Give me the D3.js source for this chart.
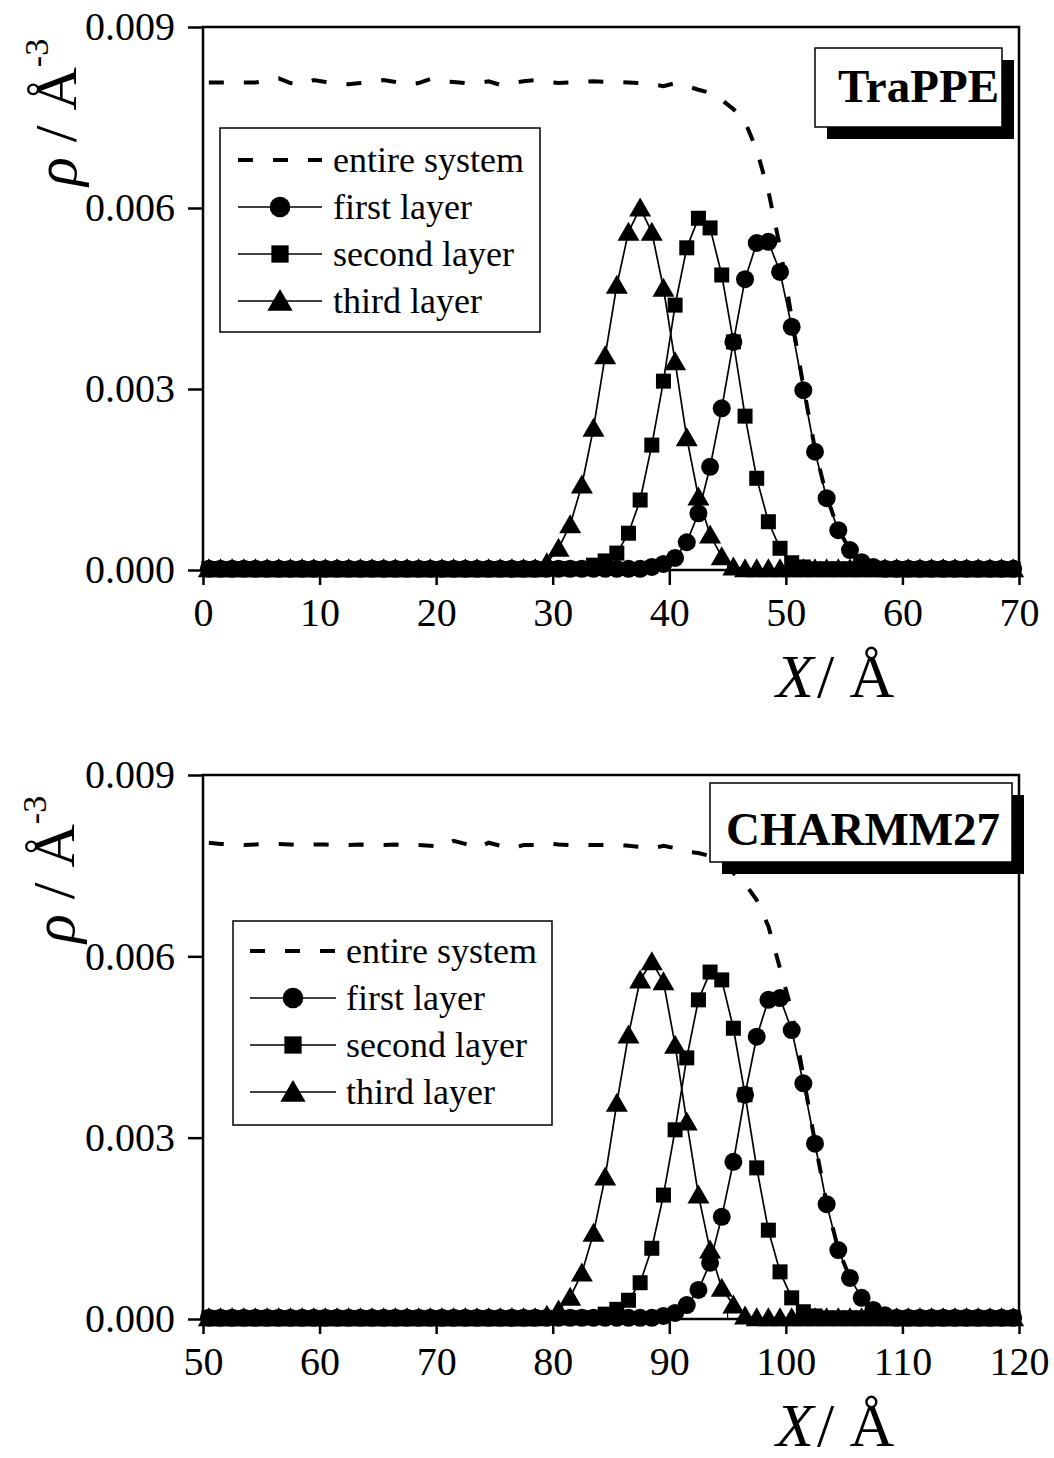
<!DOCTYPE html>
<html>
<head>
<meta charset="utf-8">
<script src="https://cdn.jsdelivr.net/npm/d3@7"></script>
<style>
  body { margin: 0; background: #fff; }
  svg { display: block; font-family: "Liberation Serif", "Times New Roman", serif; }
</style>
</head>
<body>
<div id="chart"></div>
<script>
// bin centres (1 A bins)
const xTop = d3.range(0.5, 70, 1);
const xBottom = d3.range(50.5, 120, 1);

const yTicks = [0, 0.003, 0.006, 0.009];
const xTicksTop = [0, 10, 20, 30, 40, 50, 60, 70];
const xTicksBottom = [50, 60, 70, 80, 90, 100, 110, 120];

const seriesNames = ['entire system', 'first layer', 'second layer', 'third layer'];

// TraPPE panel
const entireTop = [
  0.00808, 0.00808, 0.00808, 0.00808, 0.00808, 0.00811, 0.00815, 0.00807, 0.00805, 0.00812,
  0.00809, 0.00807, 0.00805, 0.00807, 0.00809, 0.00812, 0.00809, 0.00805, 0.00807, 0.00814,
  0.00810, 0.00809, 0.00807, 0.00807, 0.00810, 0.00804, 0.00807, 0.00810, 0.00812, 0.00809,
  0.00807, 0.00808, 0.00809, 0.00810, 0.00809, 0.00809, 0.00808, 0.00807, 0.00805, 0.00802,
  0.00807, 0.00802, 0.00796, 0.00791, 0.00779, 0.00764, 0.00743, 0.00696, 0.00628, 0.00535,
  0.00418, 0.00305, 0.00200, 0.00122, 0.00067, 0.00034, 0.00014, 0.00006, 0.00003, 0.00003,
  0.00003, 0.00003, 0.00003, 0.00003, 0.00003, 0.00003, 0.00003, 0.00003, 0.00003, 0.00003
];
const firstTop = [
  0.00002, 0.00002, 0.00002, 0.00002, 0.00002, 0.00002, 0.00002, 0.00002, 0.00002, 0.00002,
  0.00002, 0.00002, 0.00002, 0.00002, 0.00002, 0.00002, 0.00002, 0.00002, 0.00002, 0.00002,
  0.00002, 0.00002, 0.00002, 0.00002, 0.00002, 0.00002, 0.00002, 0.00002, 0.00002, 0.00002,
  0.00002, 0.00002, 0.00002, 0.00002, 0.00002, 0.00002, 0.00002, 0.00002, 0.00005, 0.00010,
  0.00020, 0.00046, 0.00094, 0.00171, 0.00268, 0.00378, 0.00482, 0.00542, 0.00544, 0.00494,
  0.00403, 0.00298, 0.00196, 0.00119, 0.00066, 0.00033, 0.00013, 0.00005, 0.00002, 0.00002,
  0.00002, 0.00002, 0.00002, 0.00002, 0.00002, 0.00002, 0.00002, 0.00002, 0.00002, 0.00002
];
const secondTop = [
  0.00002, 0.00002, 0.00002, 0.00002, 0.00002, 0.00002, 0.00002, 0.00002, 0.00002, 0.00002,
  0.00002, 0.00002, 0.00002, 0.00002, 0.00002, 0.00002, 0.00002, 0.00002, 0.00002, 0.00002,
  0.00002, 0.00002, 0.00002, 0.00002, 0.00002, 0.00002, 0.00002, 0.00002, 0.00002, 0.00002,
  0.00002, 0.00002, 0.00002, 0.00008, 0.00015, 0.00028, 0.00061, 0.00116, 0.00207, 0.00313,
  0.00439, 0.00534, 0.00583, 0.00567, 0.00489, 0.00378, 0.00255, 0.00152, 0.00080, 0.00036,
  0.00012, 0.00005, 0.00002, 0.00002, 0.00002, 0.00002, 0.00002, 0.00002, 0.00002, 0.00002,
  0.00002, 0.00002, 0.00002, 0.00002, 0.00002, 0.00002, 0.00002, 0.00002, 0.00002, 0.00002
];
const thirdTop = [
  0.00002, 0.00002, 0.00002, 0.00002, 0.00002, 0.00002, 0.00002, 0.00002, 0.00002, 0.00002,
  0.00002, 0.00002, 0.00002, 0.00002, 0.00002, 0.00002, 0.00002, 0.00002, 0.00002, 0.00002,
  0.00002, 0.00002, 0.00002, 0.00002, 0.00002, 0.00002, 0.00002, 0.00002, 0.00002, 0.00012,
  0.00036, 0.00075, 0.00141, 0.00235, 0.00355, 0.00472, 0.00560, 0.00600, 0.00560, 0.00467,
  0.00345, 0.00219, 0.00121, 0.00058, 0.00022, 0.00005, 0.00002, 0.00002, 0.00002, 0.00002,
  0.00002, 0.00002, 0.00002, 0.00002, 0.00002, 0.00002, 0.00002, 0.00002, 0.00002, 0.00002,
  0.00002, 0.00002, 0.00002, 0.00002, 0.00002, 0.00002, 0.00002, 0.00002, 0.00002, 0.00002
];

// CHARMM27 panel
const entireBottom = [
  0.00788, 0.00786, 0.00785, 0.00784, 0.00785, 0.00786, 0.00786, 0.00785, 0.00784, 0.00785,
  0.00785, 0.00784, 0.00784, 0.00785, 0.00784, 0.00784, 0.00785, 0.00784, 0.00784, 0.00783,
  0.00781, 0.00791, 0.00786, 0.00779, 0.00788, 0.00783, 0.00779, 0.00784, 0.00784, 0.00787,
  0.00785, 0.00784, 0.00784, 0.00784, 0.00784, 0.00785, 0.00783, 0.00781, 0.00778, 0.00783,
  0.00779, 0.00773, 0.00771, 0.00766, 0.00754, 0.00738, 0.00720, 0.00693, 0.00650, 0.00580,
  0.00510, 0.00402, 0.00292, 0.00191, 0.00115, 0.00068, 0.00035, 0.00015, 0.00006, 0.00003,
  0.00003, 0.00003, 0.00003, 0.00003, 0.00003, 0.00003, 0.00003, 0.00003, 0.00003, 0.00003
];
const firstBottom = [
  0.00002, 0.00002, 0.00002, 0.00002, 0.00002, 0.00002, 0.00002, 0.00002, 0.00002, 0.00002,
  0.00002, 0.00002, 0.00002, 0.00002, 0.00002, 0.00002, 0.00002, 0.00002, 0.00002, 0.00002,
  0.00002, 0.00002, 0.00002, 0.00002, 0.00002, 0.00002, 0.00002, 0.00002, 0.00002, 0.00002,
  0.00002, 0.00002, 0.00002, 0.00002, 0.00002, 0.00002, 0.00002, 0.00002, 0.00002, 0.00005,
  0.00010, 0.00023, 0.00048, 0.00093, 0.00169, 0.00260, 0.00371, 0.00467, 0.00528, 0.00531,
  0.00478, 0.00390, 0.00290, 0.00190, 0.00114, 0.00068, 0.00035, 0.00015, 0.00006, 0.00002,
  0.00002, 0.00002, 0.00002, 0.00002, 0.00002, 0.00002, 0.00002, 0.00002, 0.00002, 0.00002
];
const secondBottom = [
  0.00002, 0.00002, 0.00002, 0.00002, 0.00002, 0.00002, 0.00002, 0.00002, 0.00002, 0.00002,
  0.00002, 0.00002, 0.00002, 0.00002, 0.00002, 0.00002, 0.00002, 0.00002, 0.00002, 0.00002,
  0.00002, 0.00002, 0.00002, 0.00002, 0.00002, 0.00002, 0.00002, 0.00002, 0.00002, 0.00002,
  0.00002, 0.00002, 0.00002, 0.00002, 0.00008, 0.00016, 0.00031, 0.00060, 0.00117, 0.00205,
  0.00313, 0.00432, 0.00528, 0.00574, 0.00561, 0.00481, 0.00371, 0.00250, 0.00147, 0.00078,
  0.00035, 0.00012, 0.00005, 0.00002, 0.00002, 0.00002, 0.00002, 0.00002, 0.00002, 0.00002,
  0.00002, 0.00002, 0.00002, 0.00002, 0.00002, 0.00002, 0.00002, 0.00002, 0.00002, 0.00002
];
const thirdBottom = [
  0.00002, 0.00002, 0.00002, 0.00002, 0.00002, 0.00002, 0.00002, 0.00002, 0.00002, 0.00002,
  0.00002, 0.00002, 0.00002, 0.00002, 0.00002, 0.00002, 0.00002, 0.00002, 0.00002, 0.00002,
  0.00002, 0.00002, 0.00002, 0.00002, 0.00002, 0.00002, 0.00002, 0.00002, 0.00002, 0.00006,
  0.00015, 0.00036, 0.00076, 0.00142, 0.00235, 0.00357, 0.00470, 0.00561, 0.00591, 0.00558,
  0.00453, 0.00326, 0.00205, 0.00114, 0.00051, 0.00023, 0.00005, 0.00002, 0.00002, 0.00002,
  0.00002, 0.00002, 0.00002, 0.00002, 0.00002, 0.00002, 0.00002, 0.00002, 0.00002, 0.00002,
  0.00002, 0.00002, 0.00002, 0.00002, 0.00002, 0.00002, 0.00002, 0.00002, 0.00002, 0.00002
];

const W = 1054, H = 1458;
const svg = d3.select('#chart').append('svg')
  .attr('width', W)
  .attr('height', H);

const panels = [
  {
    label: 'TraPPE', x: xTop, xDomain: [0, 70], xTicks: xTicksTop,
    series: [entireTop, firstTop, secondTop, thirdTop],
    top: 27, bottom: 570,
    box: { x: 815, y: 48, w: 187, h: 79, tx: 838, ty: 102 },
    legend: { x: 220, y: 128, w: 320, h: 204, row0: 160, x0: 238, x1: 322, tx: 333 },
    yTitle: { x: 76, y: 186 }
  },
  {
    label: 'CHARMM27', x: xBottom, xDomain: [50, 120], xTicks: xTicksBottom,
    series: [entireBottom, firstBottom, secondBottom, thirdBottom],
    top: 775, bottom: 1319,
    box: { x: 710, y: 783, w: 302, h: 79, tx: 726, ty: 845 },
    legend: { x: 233, y: 921, w: 319, h: 204, row0: 951, x0: 250, x1: 336, tx: 346 },
    yTitle: { x: 74, y: 943 }
  }
];

const left = 203, right = 1019;
const markers = [null, 'circle', 'square', 'triangle'];

function drawMarker(g, type, cx, cy, s) {
  s = s || 1;
  if (type === 'circle') {
    g.append('circle').attr('cx', cx).attr('cy', cy).attr('r', 9 * s).attr('fill', '#000');
  } else if (type === 'square') {
    const a = 15 * s;
    g.append('rect').attr('x', cx - a / 2).attr('y', cy - a / 2)
      .attr('width', a).attr('height', a).attr('fill', '#000');
  } else if (type === 'triangle') {
    const hw = 11 * s, up = 10.5 * s, dn = 8.5 * s;
    g.append('path')
      .attr('d', `M${cx},${cy - up}L${cx + hw},${cy + dn}L${cx - hw},${cy + dn}Z`)
      .attr('fill', '#000');
  }
}

panels.forEach(p => {
  const x = d3.scaleLinear().domain(p.xDomain).range([left, right]);
  const y = d3.scaleLinear().domain([0, 0.009]).range([p.bottom, p.top]);
  const g = svg.append('g');

  // minor ticks on x, pointing in
  const minor = d3.range(p.xDomain[0] + 5, p.xDomain[1], 10);
  g.selectAll('line.minor').data(minor).join('line')
    .attr('x1', d => x(d)).attr('x2', d => x(d))
    .attr('y1', p.bottom).attr('y2', p.bottom - 7)
    .attr('stroke', '#000').attr('stroke-width', 1.2);

  // data
  const line = d3.line().x(d => x(d[0])).y(d => y(d[1]));
  p.series.forEach((vals, i) => {
    const pts = p.x.map((xv, j) => [xv, vals[j]]);
    if (i === 0) {
      g.append('path').datum(pts)
        .attr('d', line)
        .attr('fill', 'none').attr('stroke', '#000')
        .attr('stroke-width', 4).attr('stroke-dasharray', '15,20');
    } else {
      g.append('path').datum(pts)
        .attr('d', line)
        .attr('fill', 'none').attr('stroke', '#000').attr('stroke-width', 1.7);
    }
  });
  p.series.forEach((vals, i) => {
    if (i === 0) return;
    p.x.forEach((xv, j) => drawMarker(g, markers[i], x(xv), y(vals[j])));
  });

  // axes
  const yAxis = d3.axisLeft(y).tickValues(yTicks).tickFormat(d3.format('.3f'))
    .tickSize(15).tickSizeOuter(0).tickPadding(13);
  const xAxis = d3.axisBottom(x).tickValues(p.xTicks).tickFormat(d3.format('d'))
    .tickSize(15).tickSizeOuter(0).tickPadding(13);

  const ya = g.append('g').attr('transform', `translate(${left},0)`).call(yAxis);
  const xa = g.append('g').attr('transform', `translate(0,${p.bottom})`).call(xAxis);
  [ya, xa].forEach(a => {
    a.select('.domain').remove();
    a.selectAll('line').attr('stroke', '#000').attr('stroke-width', 2.5);
    a.selectAll('text').attr('fill', '#000')
      .style('font-family', '"Liberation Serif", serif').style('font-size', '40px');
  });

  g.append('rect')
    .attr('x', left).attr('y', p.top)
    .attr('width', right - left).attr('height', p.bottom - p.top)
    .attr('fill', 'none').attr('stroke', '#000').attr('stroke-width', 2.5);

  // label box with shadow
  const b = p.box;
  g.append('rect').attr('x', b.x + 12).attr('y', b.y + 12)
    .attr('width', b.w).attr('height', b.h).attr('fill', '#000');
  g.append('rect').attr('x', b.x).attr('y', b.y)
    .attr('width', b.w).attr('height', b.h)
    .attr('fill', '#fff').attr('stroke', '#000').attr('stroke-width', 1.5);
  g.append('text').attr('x', b.tx).attr('y', b.ty)
    .attr('font-size', 47).attr('font-weight', 'bold').text(p.label);

  // legend
  const L = p.legend;
  g.append('rect').attr('x', L.x).attr('y', L.y).attr('width', L.w).attr('height', L.h)
    .attr('fill', '#fff').attr('stroke', '#000').attr('stroke-width', 1.5);
  seriesNames.forEach((name, i) => {
    const ry = L.row0 + i * 47;
    const ln = g.append('line').attr('x1', L.x0).attr('x2', L.x1)
      .attr('y1', ry).attr('y2', ry).attr('stroke', '#000');
    if (i === 0) {
      ln.attr('stroke-width', 4).attr('stroke-dasharray', '15,20');
    } else {
      ln.attr('stroke-width', 1.7);
      drawMarker(g, markers[i], (L.x0 + L.x1) / 2, ry, 1.15);
    }
    g.append('text').attr('x', L.tx).attr('y', ry + 12)
      .attr('font-size', 36).text(name);
  });

  // axis titles
  const xt = g.append('text').attr('x', 776).attr('y', p.bottom + 127).attr('font-size', 62);
  xt.append('tspan').attr('font-style', 'italic').text('X');
  xt.append('tspan').attr('dx', 3).text('/ Å');

  const yt = g.append('text')
    .attr('transform', `translate(${p.yTitle.x},${p.yTitle.y}) rotate(-90)`)
    .attr('font-size', 60);
  yt.append('tspan').attr('font-style', 'italic').text('ρ');
  yt.append('tspan').text(' / Å');
  yt.append('tspan').attr('font-size', 34).attr('dy', -28).text('-3');
});
</script>
</body>
</html>
